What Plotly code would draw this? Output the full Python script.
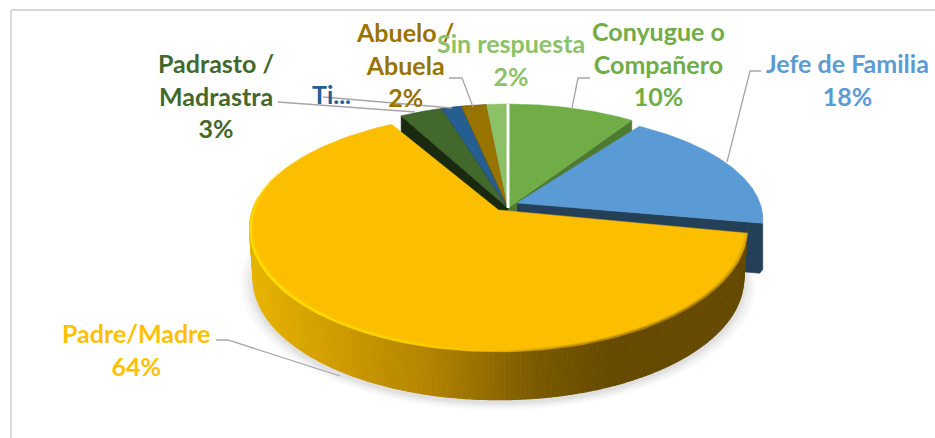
import numpy as np
import plotly.graph_objects as go

categories = ["Conyugue o Compañero", "Jefe de Familia", "Padre/Madre", "Padrasto / Madrastra", "Tíos", "Abuelo / Abuela", "Sin respuesta"]
shares = [9.6, 18.4, 63.8, 3.2, 1.5, 1.9, 1.6]
top_colors = ["#70AD47", "#5B9BD5", "#FBBF00", "#43682B", "#255E91", "#997300", "#8CC168"]
label_colors = ["#70AD47", "#5B9BD5", "#FFC000", "#43682B", "#255E91", "#997300", "#8CC168"]
cut_colors = ["#4E7A32", "#234058", "#7A5C00", "#1A2A10", "#163A5A", "#5C4500", "#5F8A45"]
labels = ["Conyugue o<br>Compañero<br>10%", "Jefe de Familia<br>18%", "Padre/Madre<br>64%", "Padrasto /<br>Madrastra<br>3%", "Ti...", "Abuelo /<br>Abuela<br>2%", "Sin respuesta<br>2%"]
label_xy = [(658, 63), (847, 79), (136, 349), (216, 95), (331, 94), (405, 64), (511, 59)]
leaders = [([590, 578, 572], [78, 78, 108]), ([761, 750, 727], [71, 71, 162]), ([216, 228, 340], [340, 340, 376]),
           ([278, 415], [102, 112]), ([323, 452], [97, 108]), ([449, 462, 473], [78, 78, 107])]

K, B, R = 0.154, 120.0, 246.0
CENTERS = {0: (508, 208), 1: (517, 203), 2: (498.5, 210), 3: (508, 208), 4: (508, 208), 5: (508, 208), 6: (508, 208)}
RADII = {1: (243.0, 105.0)}
YELLOW_BACK = 0.93
DEPTH = 50

edges = np.cumsum([0] + shares) / sum(shares) * 2 * np.pi


def project(theta, c, r=1.0, dy=0.0, scale=1.0, rb=(R, B), back=1.0):
    u, v = r * np.sin(theta), r * np.cos(theta)
    w = 1 + K * v
    return c[0] + scale * rb[0] * u / w, c[1] + dy - scale * rb[1] * np.where(v > 0, back, 1.0) * v / w


def poly(fig, x, y, color, opacity=1.0, lw=0.5):
    fig.add_trace(go.Scatter(x=list(x), y=list(y), mode="lines", fill="toself", fillcolor=color,
                             line=dict(color=color, width=lw), opacity=opacity, hoverinfo="skip", showlegend=False))


def line(fig, x, y, color, width):
    fig.add_trace(go.Scatter(x=list(x), y=list(y), mode="lines", line=dict(color=color, width=width),
                             hoverinfo="skip", showlegend=False))


def mix(stops, t):
    t = min(max(t, 0), 1)
    xs = [s[0] for s in stops]
    return "rgb(%d,%d,%d)" % tuple(np.interp(t, xs, [s[1][i] for s in stops]) for i in range(3))


def slice_top(i, r=1.0, back=1.0):
    c = CENTERS[i]
    t = np.linspace(edges[i], edges[i + 1], 160)
    x, y = project(t, c, r, rb=RADII.get(i, (R, B)), back=back)
    return np.r_[c[0], x, c[0]], np.r_[c[1], y, c[1]]


def faded_rim(fig, a0, a1, r, width, rgb, peak, n=36):
    """Rim stroke whose opacity rises and falls smoothly along its length."""
    ang = np.linspace(a0, a1, n + 1)
    for j in range(n):
        s = np.sin(np.pi * (j + .5) / n) ** 0.7
        rx, ry = project(np.linspace(ang[j], ang[j + 1], 4), CENTERS[2], r)
        line(fig, rx, ry, "rgba(%d,%d,%d,%.3f)" % (*rgb, peak * s), width)


fig = go.Figure()

# soft shadow beneath the pie
t_all = np.linspace(0, 2 * np.pi, 200)
for grow, op in [(1.05, .04), (1.035, .05), (1.02, .07), (1.008, .08)]:
    x, y = project(t_all, CENTERS[2], 1.0, DEPTH + 3, grow * .985)
    poly(fig, x, y, "#808080", op)

# back slices with their cut faces
for i in [3, 0]:
    c = CENTERS[i]
    edge = edges[i] if i == 3 else edges[i + 1]
    ex, ey = project(edge, c)
    poly(fig, [c[0], ex, ex, c[0]], [c[1], ey, ey + DEPTH, c[1] + DEPTH], cut_colors[i])
for i in [3, 4, 5, 6, 0]:
    x, y = slice_top(i)
    poly(fig, x, y, top_colors[i])
    if i in (3, 4, 5):
        line(fig, x, y, "rgba(20,30,20,0.35)", 0.7)

# exploded blue slice
c = CENTERS[1]
ex, ey = project(edges[2], c, rb=RADII[1])
poly(fig, [c[0], ex, ex, ex - 3, c[0]], [c[1], ey, ey + DEPTH - 4, ey + DEPTH, c[1] + DEPTH], cut_colors[1])
x, y = slice_top(1)
poly(fig, x, y, top_colors[1])

# yellow wall, shaded band by band along the rim
c = CENTERS[2]
wall = np.linspace(edges[2] - 0.02, edges[3] + 0.02, 221)
wall = wall[(np.cos(wall) < 0.12)]
stops = [(0, (232, 180, 0)), (.2, (212, 160, 0)), (.5, (178, 132, 0)), (.8, (122, 90, 0)), (1, (102, 74, 0))]
for a, b in zip(wall[:-1], wall[1:]):
    xa, ya = project(np.array([a, b]), c, back=YELLOW_BACK)
    xb, yb = project(np.array([b, a]), c, 1.0, DEPTH, .985, back=YELLOW_BACK)
    poly(fig, np.r_[xa, xb], np.r_[ya, yb], mix(stops, ((xa[0] + xa[1]) / 2 - 250) / 360), lw=1.2)

# yellow top, bright rim on the lit side, soft dark rim on the far side
x, y = slice_top(2, back=YELLOW_BACK)
poly(fig, x, y, top_colors[2])
faded_rim(fig, edges[2] - 0.05, np.pi * 1.0, 0.998, 2, (120, 85, 0), 0.55)
faded_rim(fig, edges[2] - 0.05, np.pi * 1.0, 0.991, 2, (120, 85, 0), 0.25)
faded_rim(fig, np.pi * 1.03, np.pi * 1.62, 0.996, 2.5, (255, 226, 0), 0.9)
faded_rim(fig, np.pi * 1.03, np.pi * 1.62, 0.988, 2, (255, 208, 0), 0.6)

# white seam between first and last slices
sx, sy = project(np.array([0.0, 0.0]), CENTERS[0], 1.0)
line(fig, [sx[0], CENTERS[0][0]], [sy[0], CENTERS[0][1]], "white", 3)

# leader lines
for lx, ly in leaders:
    line(fig, lx, ly, "#A6A6A6", 1.3)

for text, (lx, ly), col in zip(labels, label_xy, label_colors):
    bold = "<br>".join("<b>%s</b>" % part for part in text.split("<br>"))
    fig.add_annotation(x=lx, y=ly, text=bold, showarrow=False, xanchor="center", yanchor="middle",
                       font=dict(family="Lato", size=25, color=col), align="center")

fig.update_layout(
    width=935, height=438, margin=dict(l=0, r=0, t=0, b=0), paper_bgcolor="white", plot_bgcolor="white",
    xaxis=dict(range=[0, 935], visible=False, fixedrange=True),
    yaxis=dict(range=[438, 0], visible=False, fixedrange=True),
    shapes=[dict(type="line", x0=11, x1=11, y0=10, y1=438, line=dict(color="#D9D9D9", width=2)),
            dict(type="line", x0=11, x1=935, y0=10, y1=10, line=dict(color="#D9D9D9", width=2))],
)
fig.write_html("out.html", config={"displayModeBar": False},
               post_script="document.body.style.margin='0';document.documentElement.style.overflow='hidden';")
